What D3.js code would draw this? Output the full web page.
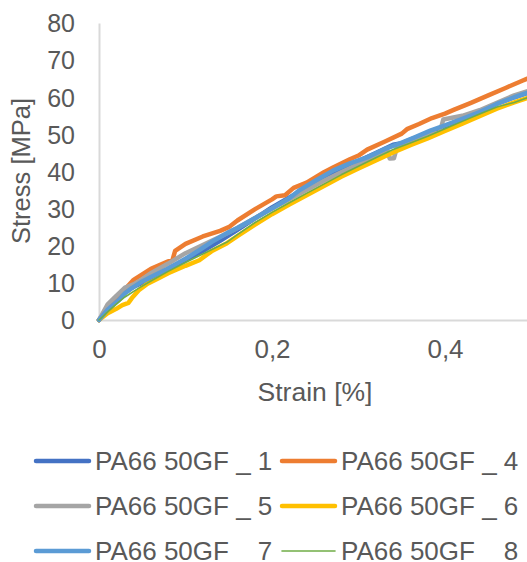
<!DOCTYPE html>
<html>
<head>
<meta charset="utf-8">
<script src="https://cdn.jsdelivr.net/npm/d3@7"></script>
<style>
  html, body { margin: 0; padding: 0; background: #fff; }
  svg { display: block; font-family: "Liberation Sans", Arial, sans-serif; }
</style>
</head>
<body>
<svg id="chart" width="527" height="562"></svg>
<script>
// ---- data (strain [%], stress [MPa]) ----
const seriesNames = ["PA66 50GF _ 1", "PA66 50GF _ 4", "PA66 50GF _ 5", "PA66 50GF _ 6", "PA66 50GF _ 7", "PA66 50GF _ 8"];
const seriesColors = ["#4472C4", "#ED7D31", "#A5A5A5", "#FFC000", "#5B9BD5", "#70AD47"];
const yTicks = [0, 10, 20, 30, 40, 50, 60, 70, 80];
const xTicks = [0, 0.2, 0.4];

const s1 = [[0,0],[.01,2.6],[.02,5.2],[.03,7.3],[.04,9],[.05,10],[.06,11.3],[.08,13.8],[.10,16.2],[.12,18.6],[.14,21.3],[.16,24.3],[.18,27.3],[.20,30.3],[.22,33],[.24,35.5],[.26,38],[.28,40.5],[.30,42.8],[.32,45],[.34,47.2],[.35,47.6],[.36,48.6],[.38,50.4],[.40,52.2],[.42,54.2],[.44,56.2],[.46,58.3],[.48,60],[.50,61.5],[.52,63]];
const s4 = [[0,0],[.01,3],[.02,5.8],[.03,8.3],[.04,10.8],[.05,12.3],[.06,13.8],[.07,14.8],[.08,15.8],[.085,16.2],[.088,18.6],[.10,20.5],[.12,22.5],[.14,24],[.15,25],[.16,26.8],[.18,29.8],[.20,32.5],[.205,33.3],[.215,33.6],[.225,35.6],[.24,37],[.26,39.8],[.27,41],[.29,43.3],[.30,44.3],[.31,45.9],[.33,48],[.35,50.2],[.356,51.4],[.37,52.8],[.385,54.4],[.40,55.6],[.41,56.6],[.43,58.5],[.45,60.5],[.47,62.5],[.49,64.5],[.51,66.5]];
const s5 = [[0,0],[.01,4.2],[.02,6.5],[.03,8.7],[.04,9.6],[.05,11],[.06,12.6],[.08,15.2],[.10,18],[.12,20.2],[.14,22.4],[.16,24.8],[.18,27.4],[.20,30],[.22,32.5],[.24,35],[.26,37.5],[.28,39.8],[.30,42],[.32,44.3],[.333,46],[.336,43.5],[.341,43.6],[.345,47],[.36,48.3],[.38,50],[.394,50.5],[.398,54],[.42,55],[.44,56.5],[.46,58.5],[.48,60.5],[.50,62],[.52,63.5]];
const s6 = [[0,0],[.01,1.8],[.02,3],[.027,4],[.034,4.6],[.038,5.9],[.046,8],[.055,9.6],[.07,11.4],[.08,12.6],[.10,14.6],[.116,16.1],[.13,18.5],[.148,20.7],[.16,22.6],[.18,25.6],[.20,28.5],[.22,31.1],[.24,33.6],[.26,36.1],[.28,38.6],[.30,40.8],[.32,43],[.34,45.1],[.36,47.1],[.38,48.9],[.40,50.9],[.42,52.9],[.44,54.9],[.46,56.9],[.48,58.6],[.50,60.2],[.52,61.6]];
const s7 = [[0,0],[.01,2.8],[.023,5.4],[.03,7.2],[.038,8.6],[.05,10.4],[.06,11.6],[.077,13.5],[.10,16.5],[.116,18.8],[.13,21],[.148,23.4],[.16,24.8],[.18,27.4],[.20,30],[.22,32.8],[.232,35],[.25,37.5],[.271,40.3],[.29,42.2],[.31,43.8],[.33,46],[.348,47.6],[.365,49.2],[.383,51],[.40,52.4],[.42,54.2],[.44,56],[.46,58.2],[.48,60],[.50,61.6],[.52,63]];
const s8 = [[0,0],[.01,2.2],[.02,4.3],[.03,6.2],[.046,8.6],[.06,10.5],[.08,13.1],[.10,15.5],[.12,17.8],[.148,21],[.16,23],[.18,26.2],[.20,29],[.22,31.6],[.24,34.1],[.26,36.6],[.28,39.1],[.30,41.4],[.32,43.7],[.34,45.9],[.36,47.7],[.38,49.5],[.40,51.5],[.42,53.5],[.44,55.5],[.46,57.4],[.48,58.6],[.50,60.3],[.52,61.8]];
const seriesData = [s1, s4, s5, s6, s7, s8];
const seriesWidths = [4.5, 4.5, 4.5, 4.5, 4.5, 1.6];

// ---- layout ----
const svg = d3.select("#chart");
const textColor = "#595959";
const axisColor = "#D9D9D9";

const x = d3.scaleLinear().domain([0, 0.6]).range([99, 99 + 865 * 0.6]);
const y = d3.scaleLinear().domain([0, 80]).range([320, 23]);

// axes lines
const yAxis = d3.axisLeft(y).tickValues(yTicks).tickSize(0).tickPadding(24).tickFormat(d3.format("d"));
const gy = svg.append("g").attr("transform", `translate(${x(0)},0)`).call(yAxis);
gy.select(".domain").attr("stroke", axisColor).attr("stroke-width", 2);
gy.selectAll("text").attr("fill", textColor).style("font-size", "25px").attr("dy", "0.35em").attr("font-family", null);

const xAxis = d3.axisBottom(x).tickValues(xTicks).tickSize(0).tickPadding(20)
  .tickFormat(d => d === 0 ? "0" : d3.format(".1f")(d).replace(".", ","));
const gx = svg.append("g").attr("transform", `translate(0,${y(0)})`).call(xAxis);
gx.select(".domain").attr("stroke", axisColor).attr("stroke-width", 2);
gx.selectAll("text").attr("fill", textColor).style("font-size", "26px").attr("font-family", null);

// lines
const line = d3.line().x(d => x(d[0])).y(d => y(d[1]));
seriesData.forEach((data, i) => {
  svg.append("path")
    .datum(data)
    .attr("fill", "none")
    .attr("stroke", seriesColors[i])
    .attr("stroke-width", seriesWidths[i])
    .attr("stroke-linejoin", "round")
    .attr("stroke-linecap", "round")
    .attr("d", line);
});

// axis titles
svg.append("text")
  .attr("transform", `translate(30,171) rotate(-90)`)
  .attr("text-anchor", "middle")
  .attr("fill", textColor)
  .style("font-size", "25.5px")
  .text("Stress [MPa]");

svg.append("text")
  .attr("x", 315).attr("y", 401)
  .attr("text-anchor", "middle")
  .attr("fill", textColor)
  .style("font-size", "26.5px")
  .text("Strain [%]");

// legend
const legendCols = [36, 282];
const legendRows = [461, 506, 551];
seriesNames.forEach((name, i) => {
  const cx = legendCols[i % 2];
  const cy = legendRows[Math.floor(i / 2)];
  const g = svg.append("g").attr("transform", `translate(${cx},${cy})`);
  g.append("line")
    .attr("x1", 0).attr("x2", 53).attr("y1", 0).attr("y2", 0)
    .attr("stroke", seriesColors[i])
    .attr("stroke-width", seriesWidths[i] === 1.6 ? 1.6 : 4.5)
    .attr("stroke-linecap", "round");
  g.append("text")
    .attr("x", 59).attr("y", 0).attr("dy", "0.35em")
    .attr("fill", textColor)
    .style("font-size", "26px")
    .style("white-space", "pre")
    .text(name);
});
</script>
</body>
</html>
